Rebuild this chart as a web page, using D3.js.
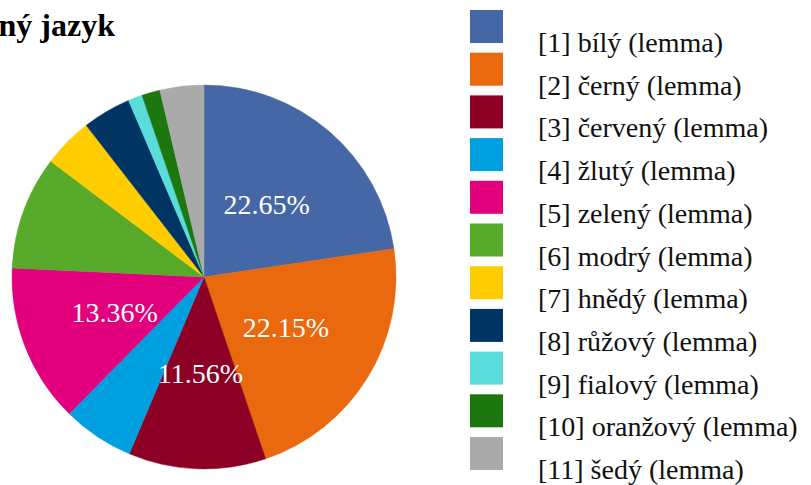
<!DOCTYPE html>
<html>
<head>
<meta charset="utf-8">
<script src="https://cdn.jsdelivr.net/npm/d3@7"></script>
<style>
  text { font-family: "Liberation Serif", "Times New Roman", serif !important; }
</style>
</head>
<body style="margin:0">
<div class="chart"></div>
<script>
// slice data, clockwise from 12 o'clock
const labels = ['[1] bílý (lemma)', '[2] černý (lemma)', '[3] červený (lemma)', '[4] žlutý (lemma)',
                '[5] zelený (lemma)', '[6] modrý (lemma)', '[7] hnědý (lemma)', '[8] růžový (lemma)',
                '[9] fialový (lemma)', '[10] oranžový (lemma)', '[11] šedý (lemma)'];
const shares = [22.65, 22.15, 11.56, 6.03, 13.36, 9.54, 4.2, 4.08, 1.2, 1.54, 3.69];
const colors = ['#4667a5', '#ea690e', '#8b0024', '#009fe0', '#e2007d', '#58aa2a',
                '#ffcc00', '#003462', '#5adcda', '#1c770f', '#aaaaaa'];
const title = 'Psaný jazyk';

const w = 811, h = 485;
const cx = 204, cy = 277, r = 192;

const svg = d3.select('.chart')
  .append('svg')
  .attr('width', w)
  .attr('height', h);

// title is partly off the left edge, like the original
svg.append('text')
  .attr('x', 115)
  .attr('y', 36)
  .attr('text-anchor', 'end')
  .attr('font-size', 32)
  .attr('font-weight', 'bold')
  .attr('fill', '#000')
  .text(title);

const pie = d3.pie().sort(null).value(d => d)(shares);
const arc = d3.arc().innerRadius(0).outerRadius(r);
const labelArc = d3.arc().innerRadius(r / 2).outerRadius(r / 2);

const g = svg.append('g').attr('transform', `translate(${cx},${cy})`);

g.selectAll('path')
  .data(pie)
  .enter()
  .append('path')
  .attr('d', arc)
  .attr('fill', (d, i) => colors[i])
  .attr('stroke', (d, i) => colors[i])
  .attr('stroke-width', 0.5);

// only the big slices get a percentage label
g.selectAll('.pct')
  .data(pie.filter(d => d.data >= 10))
  .enter()
  .append('text')
  .attr('class', 'pct')
  .attr('transform', d => `translate(${labelArc.centroid(d)})`)
  .attr('dy', '0.35em')
  .attr('text-anchor', 'middle')
  .attr('font-size', 28)
  .attr('fill', '#fff')
  .text(d => d.data.toFixed(2) + '%');

// legend
const rowY = d3.scaleLinear().domain([0, labels.length - 1]).range([10, 437]);

const legend = svg.selectAll('.legend')
  .data(labels)
  .enter()
  .append('g')
  .attr('class', 'legend');

legend.append('rect')
  .attr('x', 470)
  .attr('y', (d, i) => rowY(i))
  .attr('width', 33)
  .attr('height', 33)
  .attr('fill', (d, i) => colors[i]);

legend.append('text')
  .attr('x', 538)
  .attr('y', (d, i) => rowY(i) + 42)
  .attr('font-size', 28)
  .attr('fill', '#111')
  .text(d => d);
</script>
</body>
</html>
